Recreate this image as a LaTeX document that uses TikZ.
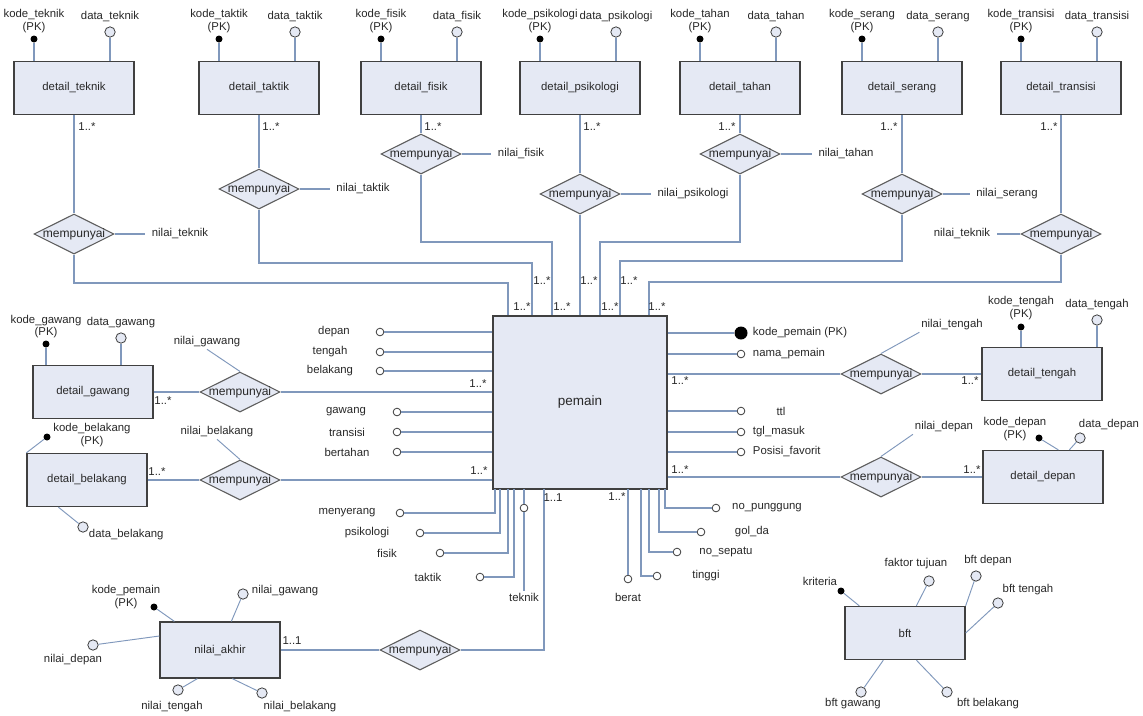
\documentclass[tikz,border=0pt]{standalone}
\usepackage{fontspec}
\setmainfont{Liberation Sans}
\usepackage{tikz}
\usetikzlibrary{shapes.geometric, calc, positioning}
\definecolor{erline}{RGB}{128,152,188}
\definecolor{erframe}{RGB}{64,64,64}
\definecolor{erfill}{RGB}{229,233,244}
\definecolor{ertext}{RGB}{40,40,40}
\newcommand{\erfont}{\fontsize{9.7}{10}\selectfont}
\newcommand{\relfont}{\fontsize{10.3}{11}\selectfont}
\tikzset{
  entity/.style={rectangle, draw=erframe, fill=erfill,
    minimum width=3.6cm, minimum height=1.59cm, inner sep=0pt,
    font=\erfont, text=ertext, line width=1.1pt},
  rel/.style={diamond, aspect=2, draw=erframe!85, fill=erfill,
    minimum width=2.4cm, minimum height=1.2cm, inner xsep=-12pt, inner ysep=0pt,
    font=\relfont, text=ertext, line width=0.9pt},
  pkdot/.style={circle, fill=black, minimum size=0.21cm, inner sep=0pt},
  attr/.style={circle, draw=erframe, fill=erfill,
    minimum size=0.31cm, inner sep=0pt, line width=0.7pt},
  sattr/.style={circle, draw=erframe, fill=white,
    minimum size=0.23cm, inner sep=0pt, line width=0.7pt},
  lbl/.style={font=\erfont, text=ertext, inner sep=1.5pt},
  card/.style={font=\erfont, text=ertext, inner sep=0pt},
  conn/.style={draw=erline, line width=1.1pt},
  thinconn/.style={draw=erline, line width=0.8pt}
}

\begin{document}
\begin{tikzpicture}[x=0.03cm, y=-0.03cm]
  \useasboundingbox[fill=white] (0,0) rectangle (1143,715);

  % central entity
  \node[entity, minimum width=5.22cm, minimum height=5.19cm, font=\fontsize{11.5}{12}\selectfont] (pemain) at (580,402.5) {pemain};

  % detail entities on top with key and data
  \foreach \nm/\cx in {teknik/74, taktik/259, fisik/421, psikologi/580, tahan/740, serang/902, transisi/1061} {
    \node[entity] (d\nm) at (\cx,88) {detail\_\nm};
    \node[pkdot] (k\nm) at (\cx-40,39) {};
    \node[attr] (a\nm) at (\cx+36,32) {};
    \node[lbl] (kl\nm) at (\cx-40,15) {kode\_\nm};
    \node[lbl] (pl\nm) at (\cx-40,28) {(PK)};
    \node[lbl] (al\nm) at (\cx+36,17) {data\_\nm};
    \draw[conn] (k\nm) -- (k\nm |- d\nm.north);
    \draw[conn] (a\nm) -- (a\nm |- d\nm.north);
  }

  % relationships below the top entities
  \foreach \nm/\cx/\ry in {teknik/74/234, taktik/259/189, fisik/421/154, psikologi/580/194, tahan/740/154, serang/902/194, transisi/1061/234} {
    \node[rel] (r\nm) at (\cx,\ry) {mempunyai};
    \draw[conn] (d\nm) -- (r\nm);
  }

  % nilai attributes of the top relationships
  \node[lbl] (nteknik) at (180,234) {nilai\_teknik};
  \node[lbl] (ntaktik) at (363,189) {nilai\_taktik};
  \node[lbl] (nfisik) at (521,154) {nilai\_fisik};
  \node[lbl] (npsikologi) at (693,194) {nilai\_psikologi};
  \node[lbl] (ntahan) at (846,154) {nilai\_tahan};
  \node[lbl] (nserang) at (1007,194) {nilai\_serang};
  \node[lbl] (ntransisi) at (962,234) {nilai\_teknik};
  \foreach \nm in {teknik, taktik, fisik, psikologi, tahan, serang, transisi}
    \draw[conn, shorten >=4pt] (r\nm) -- (n\nm);

  % joints of the top lines into pemain
  \coordinate (jteknik) at (508,283);
  \coordinate (jtaktik) at (532,263);
  \coordinate (jfisik) at (552,242);
  \coordinate (jtahan) at (600,242);
  \coordinate (jserang) at (620,261);
  \coordinate (jtransisi) at (649,282);
  \foreach \nm in {teknik, taktik, fisik, tahan, serang, transisi}
    \draw[conn] (r\nm) |- (j\nm) -- (j\nm |- pemain.north);
  \draw[conn] (rpsikologi) -- (rpsikologi |- pemain.north);

  % attributes left of pemain
  \foreach \nm/\cx/\cy/\lx in {depan/380/332/334, tengah/380/352/330, belakang/380/371/330, gawang/397/412/346, transisi/397/432/347, bertahan/397/452/347} {
    \node[sattr] (la\nm) at (\cx,\cy) {};
    \node[lbl] (lt\nm) at (\lx,\cy) {\nm};
    \draw[conn] (la\nm) -- (la\nm -| pemain.west);
  }

  % attributes below pemain, left part
  \foreach \nm/\bx/\cx/\cy/\lx in {menyerang/495/400/513/347, psikologi/500/420/533/367, fisik/508/440/553/387, taktik/514/480/577/428} {
    \coordinate (lb\nm) at (\bx,489);
    \node[sattr] (ba\nm) at (\cx,\cy) {};
    \node[lbl] (bt\nm) at (\lx,\cy) {\nm};
    \draw[conn] (ba\nm) -| (lb\nm);
  }
  \coordinate (lbteknik) at (524,489);
  \node[lbl] (btteknik) at (524,597) {teknik};
  \node[sattr] (bateknik) at (524,508) {};
  \draw[conn] (lbteknik) -- (bateknik);
  \draw[conn] (bateknik) -- (btteknik);

  % attributes below pemain, right part
  \coordinate (rbberat) at (628,489);
  \node[sattr] (raberat) at (628,579) {};
  \node[lbl] (rtberat) at (628,597) {berat};
  \draw[conn] (rbberat) -- (raberat);
  \foreach \nm/\txt/\bx/\cx/\cy/\lx in {tinggi/tinggi/641/657/576/706, sepatu/no\_sepatu/649/677/552/726, golda/gol\_da/659/701/532/752, punggung/no\_punggung/665/716/508/767} {
    \coordinate (rb\nm) at (\bx,489);
    \node[sattr] (ra\nm) at (\cx,\cy) {};
    \node[lbl] (rt\nm) at (\lx,\cy) {\txt};
    \draw[conn] (ra\nm) -| (rb\nm);
  }

  % attributes right of pemain
  \node[pkdot, minimum size=0.39cm] (kpemain) at (741,333) {};
  \node[lbl, anchor=west] (kpemainl) at (751,333) {kode\_pemain (PK)};
  \draw[conn] (kpemain) -- (kpemain -| pemain.east);
  \foreach \nm/\txt/\cy/\lx in {nama/nama\_pemain/354/751, tgl/tgl\_masuk/432/751, posisi/Posisi\_favorit/452/751} {
    \node[sattr] (pa\nm) at (741,\cy) {};
    \node[lbl, anchor=west] (pt\nm) at (\lx,\cy) {\txt};
    \draw[conn] (pa\nm) -- (pa\nm -| pemain.east);
  }
  \node[sattr] (pattl) at (741,411) {};
  \node[lbl] (ptttl) at (781,411) {ttl};
  \draw[conn] (pattl) -- (pattl -| pemain.east);

  % detail_gawang
  \node[entity] (dgawang) at (93,392) {detail\_gawang};
  \node[rel] (rgawang) at (240,392) {mempunyai};
  \node[lbl] (ngawang) at (207,342) {nilai\_gawang};
  \node[pkdot] (kgawang) at (46,344) {};
  \node[lbl] (klgawang) at (46,321) {kode\_gawang};
  \node[lbl] (plgawang) at (46,333) {(PK)};
  \node[attr] (agawang) at (121,338) {};
  \node[lbl] (algawang) at (121,323) {data\_gawang};
  \draw[conn] (kgawang) -- (kgawang |- dgawang.north);
  \draw[conn] (agawang) -- (agawang |- dgawang.north);
  \draw[conn] (dgawang) -- (rgawang);
  \draw[conn] (rgawang) -- (rgawang -| pemain.west);
  \draw[thinconn] (rgawang.north) -- (ngawang.south);

  % detail_belakang
  \node[entity] (dbelakang) at (87,480) {detail\_belakang};
  \node[rel] (rbelakang) at (240,480) {mempunyai};
  \node[lbl] (nbelakang) at (217,432) {nilai\_belakang};
  \node[pkdot] (kbelakang) at (47,437) {};
  \node[lbl] (klbelakang) at (92,429) {kode\_belakang};
  \node[lbl] (plbelakang) at (92,442) {(PK)};
  \node[attr] (abelakang) at (83,527) {};
  \node[lbl, anchor=west] (albelakang) at (87,535) {data\_belakang};
  \draw[thinconn] (kbelakang) -- (dbelakang.north west);
  \draw[thinconn] (abelakang) -- ($(dbelakang.south west)+(32,0)$);
  \draw[conn] (dbelakang) -- (rbelakang);
  \draw[conn] (rbelakang) -- (rbelakang -| pemain.west);
  \draw[thinconn] (rbelakang.north) -- (nbelakang.south);

  % detail_tengah
  \node[rel] (rtengah) at (881,374) {mempunyai};
  \node[entity] (dtengah) at (1042,374) {detail\_tengah};
  \node[lbl] (ntengah) at (952,325) {nilai\_tengah};
  \node[pkdot] (ktengah) at (1021,327) {};
  \node[lbl] (kltengah) at (1021,302) {kode\_tengah};
  \node[lbl] (pltengah) at (1021,315) {(PK)};
  \node[attr] (atengah) at (1097,320) {};
  \node[lbl] (altengah) at (1097,305) {data\_tengah};
  \draw[conn] (ktengah) -- (ktengah |- dtengah.north);
  \draw[conn] (atengah) -- (atengah |- dtengah.north);
  \draw[conn] (rtengah) -- (rtengah -| pemain.east);
  \draw[conn] (rtengah) -- (dtengah);
  \draw[thinconn] (rtengah.north) -- (ntengah.south west);

  % detail_depan
  \node[rel] (rdepan) at (881,477) {mempunyai};
  \node[entity] (ddepan) at (1043,477) {detail\_depan};
  \node[lbl] (ndepan) at (944,427) {nilai\_depan};
  \node[pkdot] (kdepan) at (1039,438) {};
  \node[lbl] (kldepan) at (1015,423) {kode\_depan};
  \node[lbl] (pldepan) at (1015,436) {(PK)};
  \node[attr] (adepan) at (1080,438) {};
  \node[lbl] (aldepan) at (1109,425) {data\_depan};
  \draw[thinconn] (kdepan) -- ($(ddepan.north west)+(76,0)$);
  \draw[thinconn] (adepan) -- ($(ddepan.north west)+(87,0)$);
  \draw[conn] (rdepan) -- (rdepan -| pemain.east);
  \draw[conn] (rdepan) -- (ddepan);
  \draw[thinconn] (rdepan.north) -- (ndepan.south west);

  % nilai_akhir
  \node[entity, minimum height=1.68cm] (nakhir) at (220,650) {nilai\_akhir};
  \node[rel] (rakhir) at (420,650) {mempunyai};
  \coordinate (lbakhir) at (544,489);
  \draw[conn] (nakhir) -- (rakhir);
  \draw[conn] (rakhir) -| (lbakhir);
  \node[pkdot] (kakhir) at (154,607) {};
  \node[lbl] (klakhir) at (126,591) {kode\_pemain};
  \node[lbl] (plakhir) at (126,604) {(PK)};
  \node[attr] (agakhir) at (243,594) {};
  \node[lbl, anchor=west] (lgakhir) at (250,591) {nilai\_gawang};
  \node[attr] (adakhir) at (93,645) {};
  \node[lbl] (ldakhir) at (73,660) {nilai\_depan};
  \node[attr] (atakhir) at (178,690) {};
  \node[lbl] (ltakhir) at (172,707) {nilai\_tengah};
  \node[attr] (abakhir) at (262,693) {};
  \node[lbl] (lbkakhir) at (300,707) {nilai\_belakang};
  \draw[thinconn] (kakhir) -- ($(nakhir.north west)+(15,0)$);
  \draw[thinconn] (agakhir) -- ($(nakhir.north west)+(72,0)$);
  \draw[thinconn] (adakhir) -- ($(nakhir.west)+(0,-14)$);
  \draw[thinconn] (atakhir) -- ($(nakhir.south west)+(38,0)$);
  \draw[thinconn] (abakhir) -- ($(nakhir.south west)+(73,0)$);

  % bft
  \node[entity] (bft) at (905,633) {bft};
  \node[pkdot] (kbft) at (841,591) {};
  \node[lbl] (klbft) at (820,581) {kriteria};
  \node[attr] (afbft) at (929,581) {};
  \node[lbl] (lfbft) at (916,564) {faktor tujuan};
  \node[attr] (adbft) at (976,576) {};
  \node[lbl] (ldbft) at (988,561) {bft depan};
  \node[attr] (atbft) at (998,603) {};
  \node[lbl] (ltbft) at (1028,590) {bft tengah};
  \node[attr] (agbft) at (861,692) {};
  \node[lbl] (lgbft) at (853,704) {bft gawang};
  \node[attr] (abbft) at (947,692) {};
  \node[lbl] (lbbft) at (988,704) {bft belakang};
  \draw[thinconn] (kbft) -- ($(bft.north west)+(15,0)$);
  \draw[thinconn] (afbft) -- ($(bft.north west)+(72,0)$);
  \draw[thinconn] (adbft) -- (bft.north east);
  \draw[thinconn] (atbft) -- (bft.east);
  \draw[thinconn] (agbft) -- ($(bft.south west)+(39,0)$);
  \draw[thinconn] (abbft) -- ($(bft.south west)+(72,0)$);

  % cardinalities
  \foreach \cx/\cy [count=\i] in {87/127, 271/127, 433/127, 592/127, 727/127, 889/127, 1049/127, 522/307, 542/281, 562/307, 589/281, 610/307, 629/281, 657/307, 163/401, 478/384, 157/472, 479/471, 680/381, 970/381, 680/470, 972/470, 617/497}
    \node[card] (m\i) at (\cx,\cy) {1..*};
  \node[card] (one1) at (553,498) {1..1};
  \node[card] (one2) at (292,641) {1..1};
\end{tikzpicture}
\end{document}
